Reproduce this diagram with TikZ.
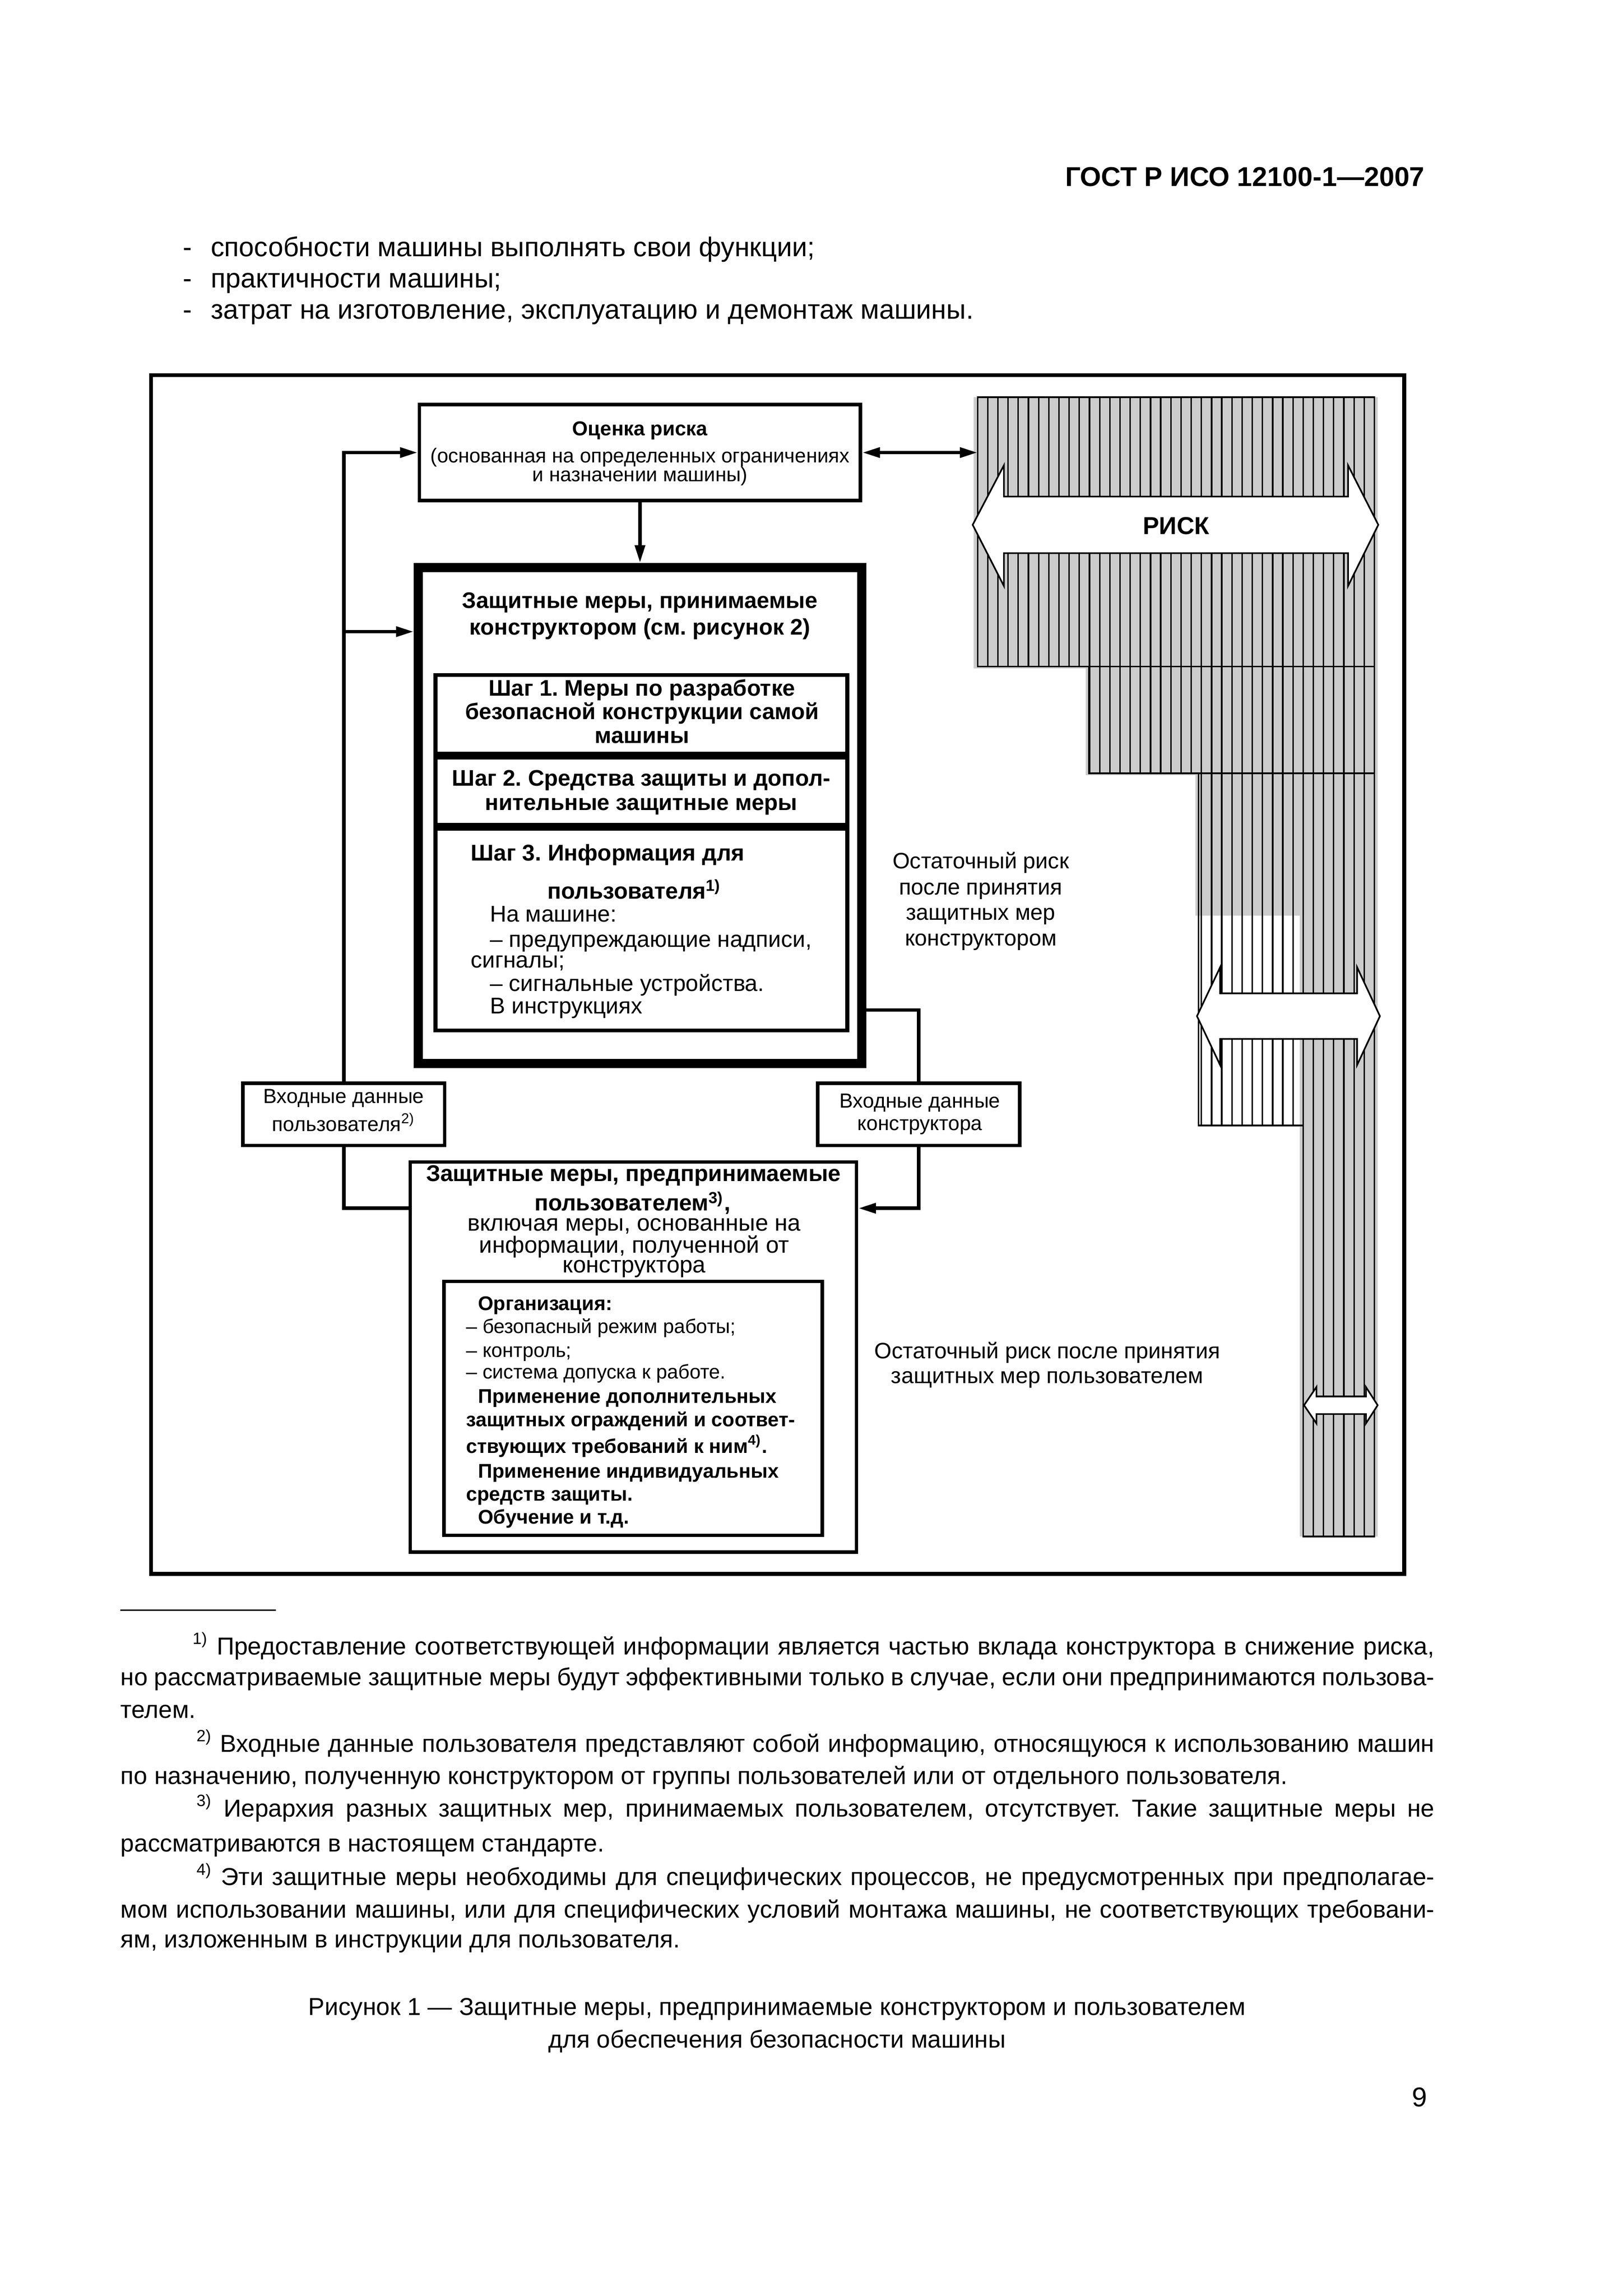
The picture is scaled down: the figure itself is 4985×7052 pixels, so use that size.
\documentclass[tikz,border=0pt]{standalone}
\usepackage{fontspec}
\setmainfont{Liberation Sans}
\usetikzlibrary{arrows.meta}
\newlength{\px}
\setlength{\px}{0.0042126cm}
\definecolor{riskgray}{gray}{0.8}
\frenchspacing

\begin{document}
\begin{tikzpicture}
[x=0.0042126cm, y=-0.0042126cm,
 >={Triangle[length=6.5pt,width=3.6pt]},
 box/.style={draw, line width=1.3pt, inner sep=0pt},
 conn/.style={line width=1.3pt},
 txt/.style={inner sep=0pt, anchor=base},
 txtl/.style={inner sep=0pt, anchor=base west},
 hatch/.style={line width=0.55pt},
 riskarrow/.style={fill=white, draw=black, line width=0.6pt},
 fbody/.style={font=\fontsize{10}{12}\selectfont},
 fhead/.style={font=\bfseries\fontsize{10}{12}\selectfont},
 fnote/.style={font=\fontsize{9}{11}\selectfont},
 fcap/.style={font=\fontsize{9}{11}\selectfont},
 focenka/.style={font=\fontsize{7.4}{9}\selectfont},
 ftitle/.style={font=\bfseries\fontsize{8.3}{10}\selectfont},
 frisk/.style={font=\bfseries\fontsize{9}{11}\selectfont},
 fstep/.style={font=\bfseries\fontsize{8.3}{10}\selectfont},
 finfo/.style={font=\fontsize{8.4}{10}\selectfont},
 finfob/.style={font=\bfseries\fontsize{8.4}{10}\selectfont},
 finput/.style={font=\fontsize{7.5}{9}\selectfont},
 fpolz/.style={font=\fontsize{8.6}{10}\selectfont},
 fpolzb/.style={font=\bfseries\fontsize{8.4}{10}\selectfont},
 forg/.style={font=\fontsize{7.3}{9}\selectfont},
 frest/.style={font=\fontsize{8.2}{10}\selectfont}]
\useasboundingbox (0,0) rectangle (4985,7052);
\fill[white] (0,0) rectangle (4985,7052);

% page head
\node[txt, anchor=base east, fhead] (gost) at (4378,572) {ГОСТ Р ИСО 12100-1—2007};
\foreach \y/\t [count=\i] in {787/{способности машины выполнять свои функции;},
  883/{практичности машины;}, 980/{затрат на изготовление, эксплуатацию и демонтаж машины.}}
  \node[txtl, fbody] (item\i) at (561,\y) {\makebox[10.2pt][l]{-}\t};

% frame
\draw[line width=1.45pt] (464,1152) rectangle (4314,4834);

% risk column
\fill[riskgray] (2991,1220) -- (4232,1220) -- (4232,4719) -- (3993,4719) -- (3993,2812)
  -- (3672,2812) -- (3672,2381) -- (3335,2381) -- (3335,2053) -- (2991,2053) -- cycle;
\begin{scope}
\clip (3003,1220) -- (4222,1220) -- (4222,4719) -- (4003,4719) -- (4003,3457) -- (3682,3457)
  -- (3682,2375) -- (3345,2375) -- (3345,2047) -- (3003,2047) -- cycle;
\foreach \k in {0,...,39}
  \draw[hatch] (3003+\k*31.256,1220) -- (3003+\k*31.256,4719);
\end{scope}
\draw[hatch] (3003,1220) -- (4222,1220) -- (4222,4719) -- (4003,4719) -- (4003,3457) -- (3682,3457)
  -- (3682,2375) -- (3345,2375) -- (3345,2047) -- (3003,2047) -- cycle;
\draw[hatch] (3345,2047) -- (4222,2047);
\draw[hatch] (3682,2375) -- (4222,2375);

\filldraw[riskarrow] (2988,1612) -- (3084,1429) -- (3084,1525) -- (4141,1525) -- (4141,1429) -- (4234,1612)
  -- (4141,1800) -- (4141,1699) -- (3084,1699) -- (3084,1800) -- cycle;
\filldraw[riskarrow] (3677,3121) -- (3748,2971) -- (3748,3051) -- (4169,3051) -- (4169,2971) -- (4239,3121)
  -- (4169,3271) -- (4169,3191) -- (3748,3191) -- (3748,3271) -- cycle;
\filldraw[riskarrow] (4006,4316) -- (4044,4260) -- (4044,4289) -- (4196,4289) -- (4196,4260) -- (4232,4316)
  -- (4196,4372) -- (4196,4343) -- (4044,4343) -- (4044,4372) -- cycle;
\node[txt, frisk] (risklabel) at (3613,1641) {РИСК};

% risk assessment
\node[box, minimum width=1355\px, minimum height=294\px] (ocenka) at (1966,1390) {};
\foreach \y/\t [count=\i] in {1338/{\bfseries Оценка риска},
  1421/{(основанная на определенных ограничениях}, 1479/{и назначении машины)}}
  \node[txt, focenka] (ocenka\i) at (1966,\y) {\t};

% designer measures
\node[box, line width=3.36pt, minimum width=1362\px, minimum height=1523\px] (konstr) at (1966,2504.5) {};
\node[txt, ftitle] (konstr1) at (1966,1868) {Защитные меры, принимаемые};
\node[txt, ftitle] (konstr2) at (1966,1950) {конструктором (см. рисунок 2)};

\node[box, line width=1.45pt, minimum width=1265\px, minimum height=242\px] (step1) at (1970,2194) {};
\node[box, line width=1.45pt, minimum width=1265\px, minimum height=206\px] (step2) at (1970,2430) {};
\node[box, line width=1.45pt, minimum width=1265\px, minimum height=620\px] (step3) at (1970,2855) {};
\foreach \y/\t [count=\i] in {2137/{Шаг 1. Меры по разработке},
  2210/{безопасной конструкции самой}, 2282/{машины}}
  \node[txt, fstep] (stepa\i) at (1972,\y) {\t};
\foreach \y/\t [count=\i] in {2414/{Шаг 2. Средства защиты и допол-}, 2488/{нительные защитные меры}}
  \node[txt, fstep] (stepb\i) at (1970,\y) {\t};
\node[txtl, finfob] (stepc1) at (1445,2644) {Шаг 3. Информация для};
\node[txtl, finfob] (stepc2) at (1680,2761) {пользователя\textsuperscript{1)}};
\foreach \x/\y/\t [count=\i] in {1504/2831/{На машине:}, 1504/2909/{– предупреждающие надписи,},
  1445/2973/{сигналы;}, 1504/3045/{– сигнальные устройства.}, 1504/3113/{В инструкциях}}
  \node[txtl, finfo] (info\i) at (\x,\y) {\t};

% inputs
\node[box, minimum width=620\px, minimum height=191\px] (vhodpolz) at (1056,3422.5) {};
\node[box, minimum width=620\px, minimum height=191\px] (vhodkonstr) at (2822,3422.5) {};
\node[txt, finput] (vhodpolz1) at (1056,3389) {Входные данные};
\node[txt, finput] (vhodpolz2) at (1056,3475) {пользователя\textsuperscript{2)}};
\node[txt, finput] (vhodkonstr1) at (2826,3402) {Входные данные};
\node[txt, finput] (vhodkonstr2) at (2826,3472) {конструктора};

% user measures
\node[box, minimum width=1371\px, minimum height=1198\px] (polz) at (1945.5,4168) {};
\node[txt, fpolzb] (polz1) at (1946,3628) {Защитные меры, предпринимаемые};
\node[txt, fpolzb] (polz2) at (1943,3719) {пользователем\textsuperscript{3)},};
\foreach \y/\t [count=\i] in {3781/{включая меры, основанные на},
  3848/{информации, полученной от}, 3909/{конструктора}}
  \node[txt, fpolz] (polzsub\i) at (1948,\y) {\t};

\node[box, line width=1.25pt, minimum width=1162\px, minimum height=780\px] (org) at (1945,4326) {};
\foreach \x/\y/\t [count=\i] in {1467/4024/{\bfseries Организация:},
  1430/4095/{– безопасный режим работы;}, 1430/4168/{– контроль;},
  1430/4235/{– система допуска к работе.}, 1467/4309/{\bfseries Применение дополнительных},
  1430/4382/{\bfseries защитных ограждений и соответ-},
  1430/4463/{\bfseries ствующих требований к ним\textsuperscript{4)}.},
  1467/4540/{\bfseries Применение индивидуальных}, 1430/4610/{\bfseries средств защиты.},
  1467/4680/{\bfseries Обучение и т.д.}}
  \node[txtl, forg] (org\i) at (\x,\y) {\t};

% residual risk
\foreach \y/\t [count=\i] in {2668/{Остаточный риск}, 2748/{после принятия},
  2826/{защитных мер}, 2905/{конструктором}}
  \node[txt, frest] (restk\i) at (3013,\y) {\t};
\node[txt, frest] (restp1) at (3217,4172) {Остаточный риск после принятия};
\node[txt, frest] (restp2) at (3217,4249) {защитных мер пользователем};

% connectors
\coordinate (kin) at (0,1940);
\coordinate (kout) at (0,3102);
\coordinate (pin) at (0,3711);
\coordinate (riskin) at (3003,1390);
\draw[conn,->] (vhodpolz.north) |- (ocenka.west);
\draw[conn,->] (vhodpolz.north |- kin) -- (konstr.west |- kin);
\draw[conn,->] (ocenka.south) -- (konstr.north);
\draw[conn,<->] (ocenka.east) -- (riskin);
\draw[conn] (konstr.east |- kout) -| (vhodkonstr.north);
\draw[conn] (vhodpolz.south) |- (polz.west |- pin);
\draw[conn,->] (vhodkonstr.south) |- (polz.east |- pin);

% footnotes
\draw[line width=0.5pt] (369,4945) -- (848,4945);
\node[txtl, fnote] (fn1a) at (590,5082) {\makebox[3815\px][s]{\textsuperscript{1)}\ Предоставление соответствующей информации является частью вклада конструктора в снижение риска,}};
\node[txtl, fnote] (fn1b) at (369,5177) {\makebox[4036\px][s]{но рассматриваемые защитные меры будут эффективными только в случае, если они предпринимаются пользова-}};
\node[txtl, fnote] (fn1c) at (369,5277) {телем.};
\node[txtl, fnote] (fn2a) at (602,5381) {\makebox[3803\px][s]{\textsuperscript{2)}\ Входные данные пользователя представляют собой информацию, относящуюся к использованию машин}};
\node[txtl, fnote] (fn2b) at (369,5480) {по назначению, полученную конструктором от группы пользователей или от отдельного пользователя.};
\node[txtl, fnote] (fn3a) at (602,5580) {\makebox[3803\px][s]{\textsuperscript{3)}\ Иерархия разных защитных мер, принимаемых пользователем, отсутствует. Такие защитные меры не}};
\node[txtl, fnote] (fn3b) at (369,5687) {рассматриваются в настоящем стандарте.};
\node[txtl, fnote] (fn4a) at (602,5791) {\makebox[3803\px][s]{\textsuperscript{4)}\ Эти защитные меры необходимы для специфических процессов, не предусмотренных при предполагае-}};
\node[txtl, fnote] (fn4b) at (369,5890) {\makebox[4036\px][s]{мом использовании машины, или для специфических условий монтажа машины, не соответствующих требовани-}};
\node[txtl, fnote] (fn4c) at (369,5982) {ям, изложенным в инструкции для пользователя.};

% caption
\node[txt, fcap] (cap1) at (2387,6189) {Рисунок 1 — Защитные меры, предпринимаемые конструктором и пользователем};
\node[txt, fcap] (cap2) at (2387,6289) {для обеспечения безопасности машины};
\node[txt, anchor=base east, fbody] (pagenum) at (4386,6470) {9};
\end{tikzpicture}
\end{document}
